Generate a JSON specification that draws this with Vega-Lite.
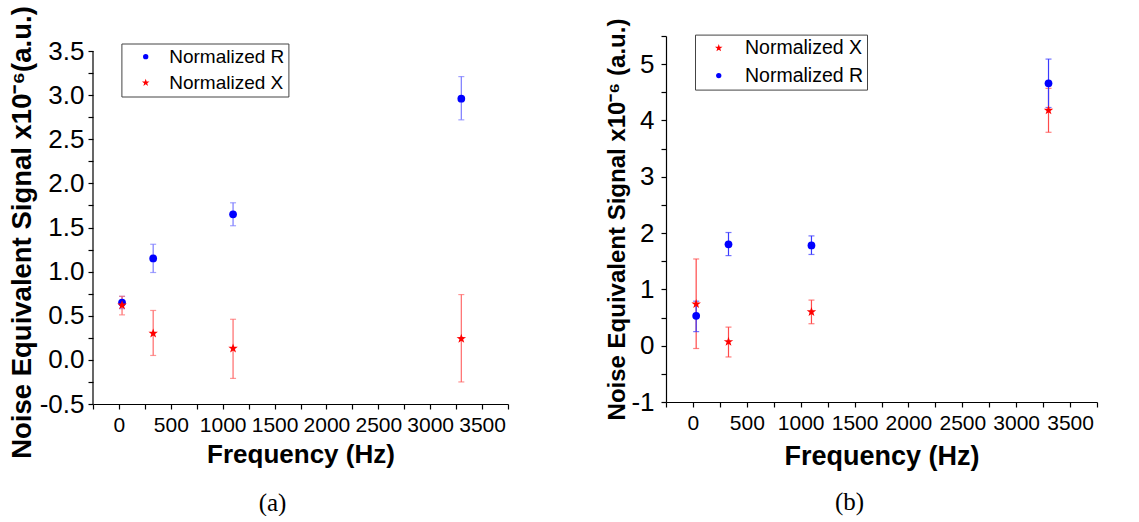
{
  "$schema": "https://vega.github.io/schema/vega-lite/v6.json",
  "background": "white",
  "padding": {"left": 8, "top": 5, "right": 5, "bottom": 0},
  "bounds": "flush",
  "spacing": 158,
  "config": {
    "view": {"stroke": null},
    "font": "Liberation Sans",
    "axis": {
      "grid": false,
      "domainColor": "black",
      "domainWidth": 1.2,
      "tickColor": "black",
      "tickWidth": 1.2,
      "tickSize": 5,
      "labelColor": "black",
      "labelFont": "Liberation Sans",
      "titleColor": "black",
      "titleFont": "Liberation Sans",
      "titleFontWeight": "bold"
    },
    "legend": {
      "orient": "none",
      "title": null,
      "padding": 3.7,
      "strokeColor": "#444",
      "fillColor": "white",
      "labelFont": "Liberation Sans",
      "labelColor": "black",
      "symbolSize": 28,
      "rowPadding": 6
    }
  },
  "datasets": {
    "pts": [
      {"panel": "a", "series": "Normalized R", "f": 30, "v": 0.65, "lo": 0.58, "hi": 0.72},
      {"panel": "a", "series": "Normalized R", "f": 330, "v": 1.15, "lo": 0.99, "hi": 1.31},
      {"panel": "a", "series": "Normalized R", "f": 1100, "v": 1.65, "lo": 1.52, "hi": 1.78},
      {"panel": "a", "series": "Normalized R", "f": 3300, "v": 2.96, "lo": 2.72, "hi": 3.21},
      {"panel": "a", "series": "Normalized X", "f": 30, "v": 0.62, "lo": 0.51, "hi": 0.72},
      {"panel": "a", "series": "Normalized X", "f": 330, "v": 0.30, "lo": 0.05, "hi": 0.56},
      {"panel": "a", "series": "Normalized X", "f": 1100, "v": 0.13, "lo": -0.21, "hi": 0.46},
      {"panel": "a", "series": "Normalized X", "f": 3300, "v": 0.24, "lo": -0.25, "hi": 0.74},
      {"panel": "b", "series": "Normalized X", "f": 30, "v": 0.74, "lo": -0.05, "hi": 1.54},
      {"panel": "b", "series": "Normalized X", "f": 330, "v": 0.07, "lo": -0.20, "hi": 0.33},
      {"panel": "b", "series": "Normalized X", "f": 1100, "v": 0.60, "lo": 0.39, "hi": 0.81},
      {"panel": "b", "series": "Normalized X", "f": 3300, "v": 4.18, "lo": 3.79, "hi": 4.57},
      {"panel": "b", "series": "Normalized R", "f": 30, "v": 0.53, "lo": 0.25, "hi": 0.79},
      {"panel": "b", "series": "Normalized R", "f": 330, "v": 1.80, "lo": 1.60, "hi": 2.01},
      {"panel": "b", "series": "Normalized R", "f": 1100, "v": 1.78, "lo": 1.62, "hi": 1.95},
      {"panel": "b", "series": "Normalized R", "f": 3300, "v": 4.66, "lo": 4.23, "hi": 5.09}
    ],
    "axisline": [
      {"f": -250, "lo": -0.5, "hi": 3.5}
    ]
  },
  "resolve": {
    "scale": {"x": "independent", "y": "independent", "color": "independent", "shape": "independent"},
    "legend": {"color": "independent", "shape": "independent"}
  },
  "hconcat": [
    {
      "width": 415,
      "height": 368,
      "title": {"text": "(a)", "orient": "bottom", "anchor": "middle", "font": "Liberation Serif", "fontSize": 25, "fontWeight": "normal", "color": "black", "dx": -28, "offset": 24},
      "data": {"name": "pts"},
      "transform": [{"filter": "datum.panel === 'a'"}],
      "encoding": {
        "x": {
          "field": "f", "type": "quantitative",
          "scale": {"domain": [-250, 3750], "nice": false, "zero": false},
          "axis": {
            "title": "Frequency (Hz)", "titleFontSize": 26, "titlePadding": 6,
            "values": [-250, 0, 250, 500, 750, 1000, 1250, 1500, 1750, 2000, 2250, 2500, 2750, 3000, 3250, 3500, 3750],
            "format": "d",
            "labelExpr": "datum.value >= 0 && datum.value % 500 === 0 ? datum.label : ''",
            "labelFontSize": 21, "labelPadding": 5, "labelFlush": false, "labelOverlap": false
          }
        },
        "y": {"field": "lo", "type": "quantitative", "scale": {"domain": [-0.5, 3.67], "nice": false, "zero": false},
          "axis": {"title": "Noise Equivalent Signal x10⁻⁶(a.u.)", "titleFontSize": 27.5, "titlePadding": 2.3, "titleY": 196, "domain": false,
            "values": [-0.5, -0.25, 0, 0.25, 0.5, 0.75, 1, 1.25, 1.5, 1.75, 2, 2.25, 2.5, 2.75, 3, 3.25, 3.5],
            "labelExpr": "abs(datum.value*2 - round(datum.value*2)) < 0.001 ? replace(format(datum.value, '.1f'), '\u2212', '-') : ''",
            "labelFontSize": 26, "labelPadding": 4, "labelFlush": false, "labelOverlap": false}}
      },
      "layer": [
        {
          "data": {"name": "axisline"},
          "mark": {"type": "rule", "color": "black", "strokeWidth": 1.2},
          "encoding": {"y2": {"field": "hi"}}
        },
        {
          "transform": [{"filter": "datum.series === 'Normalized R'"}],
          "mark": {"type": "rule", "strokeWidth": 1.2, "color": "#7a7aff"},
          "encoding": {"y2": {"field": "hi"}}
        },
        {
          "transform": [{"filter": "datum.series === 'Normalized R'"}],
          "mark": {"type": "tick", "orient": "horizontal", "size": 6, "thickness": 1.2, "color": "#7a7aff"},
          "encoding": {}
        },
        {
          "transform": [{"filter": "datum.series === 'Normalized R'"}],
          "mark": {"type": "tick", "orient": "horizontal", "size": 6, "thickness": 1.2, "color": "#7a7aff"},
          "encoding": {"y": {"field": "hi", "type": "quantitative"}}
        },
        {
          "transform": [{"filter": "datum.series === 'Normalized X'"}],
          "mark": {"type": "rule", "strokeWidth": 1.2, "color": "#ff6a6a"},
          "encoding": {"y2": {"field": "hi"}}
        },
        {
          "transform": [{"filter": "datum.series === 'Normalized X'"}],
          "mark": {"type": "tick", "orient": "horizontal", "size": 6, "thickness": 1.2, "color": "#ff6a6a"},
          "encoding": {}
        },
        {
          "transform": [{"filter": "datum.series === 'Normalized X'"}],
          "mark": {"type": "tick", "orient": "horizontal", "size": 6, "thickness": 1.2, "color": "#ff6a6a"},
          "encoding": {"y": {"field": "hi", "type": "quantitative"}}
        },
        {
          "mark": {"type": "point", "filled": true, "opacity": 1},
          "encoding": {
            "y": {"field": "v", "type": "quantitative"},
            "size": {"condition": {"test": "datum.series === 'Normalized X'", "value": 44}, "value": 60},
            "color": {"field": "series", "type": "nominal", "scale": {"domain": ["Normalized R", "Normalized X"], "range": ["#0000ff", "#ff0000"]},
              "legend": {"orient": "none", "legendX": 28.4, "legendY": 7.5, "labelFontSize": 19, "symbolOffset": 11.1, "labelOffset": 14}},
            "shape": {"field": "series", "type": "nominal", "scale": {"domain": ["Normalized R", "Normalized X"], "range": ["circle", "M0,-1.5L0.353,-0.486L1.427,-0.464L0.57,0.186L0.882,1.214L0,0.6L-0.882,1.214L-0.57,0.186L-1.427,-0.464L-0.353,-0.486Z"]},
              "legend": {"orient": "none", "legendX": 28.4, "legendY": 7.5, "labelFontSize": 19, "symbolOffset": 11.1, "labelOffset": 14}}
          }
        }
      ]
    },
    {
      "width": 431,
      "height": 366,
      "title": {"text": "(b)", "orient": "bottom", "anchor": "middle", "font": "Liberation Serif", "fontSize": 25, "fontWeight": "normal", "color": "black", "dx": -32, "offset": 21},
      "data": {"name": "pts"},
      "transform": [{"filter": "datum.panel === 'b'"}],
      "encoding": {
        "x": {
          "field": "f", "type": "quantitative",
          "scale": {"domain": [-250, 3750], "nice": false, "zero": false},
          "axis": {
            "title": "Frequency (Hz)", "titleFontSize": 27, "titlePadding": 10,
            "values": [-250, 0, 250, 500, 750, 1000, 1250, 1500, 1750, 2000, 2250, 2500, 2750, 3000, 3250, 3500, 3750],
            "format": "d",
            "labelExpr": "datum.value >= 0 && datum.value % 500 === 0 ? datum.label : ''",
            "labelFontSize": 21, "labelPadding": 5, "labelFlush": false, "labelOverlap": false
          }
        },
        "y": {"field": "lo", "type": "quantitative", "scale": {"domain": [-1, 5.5], "nice": false, "zero": false},
          "axis": {"title": "Noise Equivalent Signal x10⁻⁶ (a.u.)", "titleFontSize": 24, "titlePadding": 1,
            "values": [-1, -0.5, 0, 0.5, 1, 1.5, 2, 2.5, 3, 3.5, 4, 4.5, 5, 5.5],
            "labelExpr": "abs(datum.value - round(datum.value)) < 0.001 ? replace(format(datum.value, 'd'), '\u2212', '-') : ''",
            "labelFontSize": 26, "labelPadding": 7, "labelFlush": false, "labelOverlap": false}}
      },
      "layer": [
        {
          "transform": [{"filter": "datum.series === 'Normalized X'"}],
          "mark": {"type": "rule", "strokeWidth": 1.2, "color": "#ff4a4a"},
          "encoding": {"y2": {"field": "hi"}}
        },
        {
          "transform": [{"filter": "datum.series === 'Normalized X'"}],
          "mark": {"type": "tick", "orient": "horizontal", "size": 6, "thickness": 1.2, "color": "#ff4a4a"},
          "encoding": {}
        },
        {
          "transform": [{"filter": "datum.series === 'Normalized X'"}],
          "mark": {"type": "tick", "orient": "horizontal", "size": 6, "thickness": 1.2, "color": "#ff4a4a"},
          "encoding": {"y": {"field": "hi", "type": "quantitative"}}
        },
        {
          "transform": [{"filter": "datum.series === 'Normalized R'"}],
          "mark": {"type": "rule", "strokeWidth": 1.2, "color": "#3a3aff"},
          "encoding": {"y2": {"field": "hi"}}
        },
        {
          "transform": [{"filter": "datum.series === 'Normalized R'"}],
          "mark": {"type": "tick", "orient": "horizontal", "size": 6, "thickness": 1.2, "color": "#3a3aff"},
          "encoding": {}
        },
        {
          "transform": [{"filter": "datum.series === 'Normalized R'"}],
          "mark": {"type": "tick", "orient": "horizontal", "size": 6, "thickness": 1.2, "color": "#3a3aff"},
          "encoding": {"y": {"field": "hi", "type": "quantitative"}}
        },
        {
          "mark": {"type": "point", "filled": true, "opacity": 1},
          "encoding": {
            "y": {"field": "v", "type": "quantitative"},
            "size": {"condition": {"test": "datum.series === 'Normalized X'", "value": 44}, "value": 60},
            "color": {"field": "series", "type": "nominal", "scale": {"domain": ["Normalized X", "Normalized R"], "range": ["#ff0000", "#0000ff"]},
              "legend": {"orient": "none", "legendX": 29, "legendY": -1.4, "labelFontSize": 19.5, "symbolOffset": 10.3, "labelOffset": 16.5, "rowPadding": 6.5}},
            "shape": {"field": "series", "type": "nominal", "scale": {"domain": ["Normalized X", "Normalized R"], "range": ["M0,-1.5L0.353,-0.486L1.427,-0.464L0.57,0.186L0.882,1.214L0,0.6L-0.882,1.214L-0.57,0.186L-1.427,-0.464L-0.353,-0.486Z", "circle"]},
              "legend": {"orient": "none", "legendX": 29, "legendY": -1.4, "labelFontSize": 19.5, "symbolOffset": 10.3, "labelOffset": 16.5, "rowPadding": 6.5}}
          }
        }
      ]
    }
  ]
}
